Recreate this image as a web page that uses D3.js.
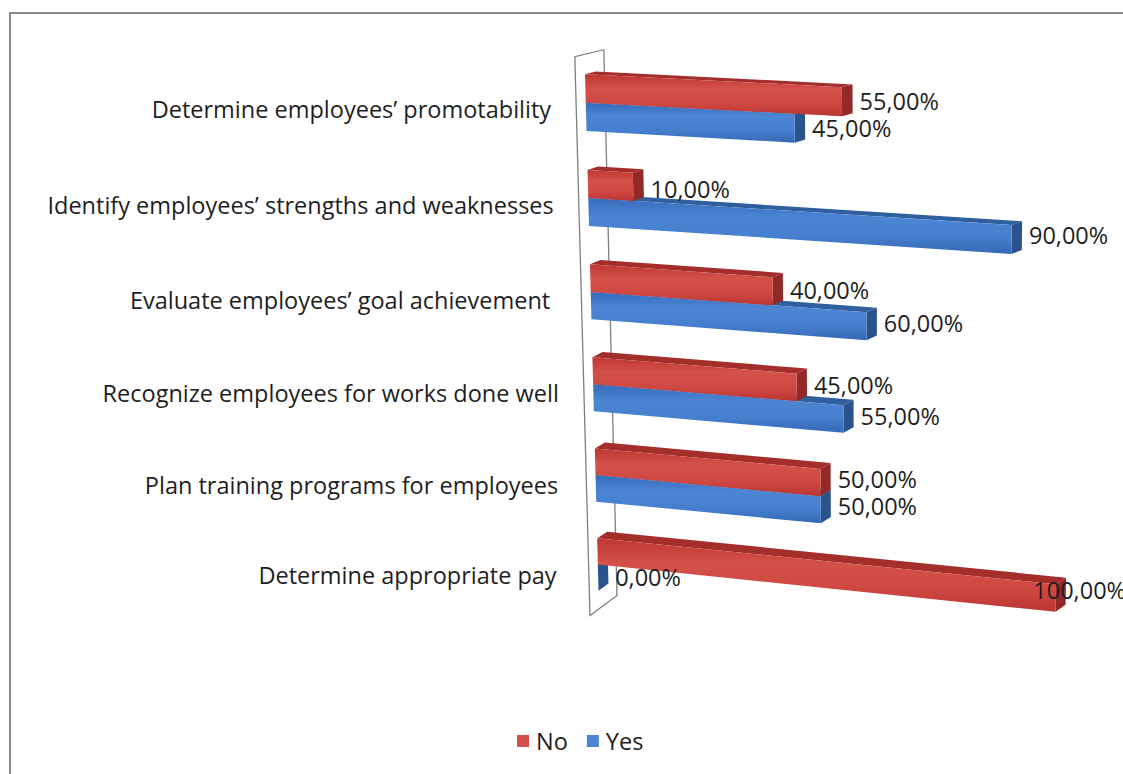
<!DOCTYPE html>
<html>
<head>
<meta charset="utf-8">
<script src="https://cdn.jsdelivr.net/npm/d3@7/dist/d3.min.js"></script>
<style>
  html, body { margin: 0; padding: 0; background: #ffffff; overflow: hidden; }
  svg { display: block; }
  text { font-family: "Open Sans", "DejaVu Sans", sans-serif; fill: #1e1e1e; }
</style>
</head>
<body>
<svg id="chart" width="1123" height="774"></svg>
<script>
// ---- data -------------------------------------------------------------
const categories = [
  "Determine employees’ promotability",
  "Identify employees’ strengths and weaknesses",
  "Evaluate employees’ goal achievement ",
  "Recognize employees for works done well",
  "Plan training programs for employees",
  "Determine appropriate pay"
];
const seriesNames = ["No", "Yes"];
const noValues  = [55, 10, 40, 45, 50, 100];
const yesValues = [45, 90, 60, 55, 50, 0];
const valueDomain = [0, 100];

// ---- layout -----------------------------------------------------------
const W = 1123, H = 774;
const svg = d3.select("#chart");
const FONT = 23.5;

const colors = {
  No:  { front: ["#bf3632", "#d4514a", "#cf4741", "#bb3632"], top: "#a32e2a", side: "#932926" },
  Yes: { front: ["#376bbb", "#4b85d4", "#457fce", "#3668b3"], top: "#2f5f9e", side: "#2a538d" }
};

// value -> u (0..1) along the bar direction
const x = d3.scaleLinear().domain(valueDomain).range([0, 1]);
// category -> v (0..1) down the plot, bars centred in their slot
const y = d3.scaleBand().domain(categories).range([0, 1]).paddingInner(0.41).paddingOuter(0.205);
const ySeries = d3.scaleBand().domain(seriesNames).range([0, y.bandwidth()]);

// Perspective of the bar plane: unit square -> screen quad
const quad = [[584.5, 54.4], [1063.3, 77.4], [1055, 658], [599, 608.8]];
function makeHomography(q) {
  const [x0, y0] = q[0], [x1, y1] = q[1], [x2, y2] = q[2], [x3, y3] = q[3];
  const dx1 = x1 - x2, dx2 = x3 - x2, dx3 = x0 - x1 + x2 - x3;
  const dy1 = y1 - y2, dy2 = y3 - y2, dy3 = y0 - y1 + y2 - y3;
  const den = dx1 * dy2 - dx2 * dy1;
  const g = (dx3 * dy2 - dx2 * dy3) / den;
  const h = (dx1 * dy3 - dx3 * dy1) / den;
  const a = x1 - x0 + g * x1, b = x3 - x0 + h * x3, c = x0;
  const d = y1 - y0 + g * y1, e = y3 - y0 + h * y3, f = y0;
  return (u, v) => {
    const z = g * u + h * v + 1;
    return [(a * u + b * v + c) / z, (d * u + e * v + f) / z];
  };
}
const plane = makeHomography(quad);
// screen offset for one full unit of depth, varying down the plot
const depthTop = [29, -7], depthBottom = [27, -20];
const W_PLANE = 1 / 3, W_FRONT = 1 / 3, W_BACK = 0.70;
function project(u, v, w) {
  const p = plane(u, v);
  const dx = depthTop[0] + (depthBottom[0] - depthTop[0]) * v;
  const dy = depthTop[1] + (depthBottom[1] - depthTop[1]) * v;
  return [p[0] + (w - W_PLANE) * dx, p[1] + (w - W_PLANE) * dy];
}
const poly = pts => "M" + pts.map(p => p[0].toFixed(2) + "," + p[1].toFixed(2)).join("L") + "Z";

// ---- gradients --------------------------------------------------------
const defs = svg.append("defs");
seriesNames.forEach(s => {
  const g = defs.append("linearGradient").attr("id", "grad-" + s)
    .attr("x1", 0).attr("y1", 0).attr("x2", 0).attr("y2", 1);
  const st = colors[s].front;
  [[0, st[0]], [0.35, st[1]], [0.7, st[2]], [1, st[3]]].forEach(([o, c]) =>
    g.append("stop").attr("offset", o).attr("stop-color", c));
});

// ---- chart frame ------------------------------------------------------
svg.append("rect").attr("x", 10).attr("y", 13).attr("width", W + 20).attr("height", H + 20)
  .attr("fill", "none").attr("stroke", "#8a8a8a").attr("stroke-width", 2);

// ---- category floor (thin plate on the left) --------------------------
svg.append("path")
  .attr("d", poly([project(0, 0, 0), project(0, 1, 0), project(0, 1, 1), project(0, 0, 1)]))
  .attr("fill", "none").attr("stroke", "#7f7f7f").attr("stroke-width", 1.3);

// ---- bars -------------------------------------------------------------
const rows = categories.map((c, i) => ({ category: c, No: noValues[i], Yes: yesValues[i] }));
const barsG = svg.append("g");
const labelsG = svg.append("g");
const fmt = d3.formatLocale({ decimal: ",", thousands: ".", grouping: [3], currency: ["", ""] }).format(".2%");

rows.forEach(row => {
  // lower bar first so the upper bar covers its top face
  ["Yes", "No"].forEach(s => {
    const v0 = y(row.category) + ySeries(s);
    const v1 = v0 + ySeries.bandwidth();
    const u = x(row[s]);
    const g = barsG.append("g");
    g.append("path").attr("d", poly([project(0, v0, W_FRONT), project(u, v0, W_FRONT), project(u, v0, W_BACK), project(0, v0, W_BACK)]))
      .attr("fill", colors[s].top);
    g.append("path").attr("d", poly([project(u, v0, W_FRONT), project(u, v0, W_BACK), project(u, v1, W_BACK), project(u, v1, W_FRONT)]))
      .attr("fill", colors[s].side);
    if (u > 0) {
      g.append("path").attr("d", poly([project(0, v0, W_FRONT), project(u, v0, W_FRONT), project(u, v1, W_FRONT), project(0, v1, W_FRONT)]))
        .attr("fill", `url(#grad-${s})`);
    }
    // value label beyond the bar end
    const a = project(u, (v0 + v1) / 2, W_BACK);
    const t = labelsG.append("text")
      .attr("x", a[0] + 7).attr("y", a[1] + 6 - 7 * u)
      .attr("dominant-baseline", "central")
      .attr("font-size", FONT)
      .text(fmt(row[s] / 100));
    const tw = t.node().getComputedTextLength();
    if (a[0] + 7 + tw > W + 3) t.attr("x", W + 3 - tw);
  });
});

// ---- category labels --------------------------------------------------
categories.forEach(c => {
  const v = y(c) + y.bandwidth() / 2;
  const p = project(0, v, 0);
  svg.append("text")
    .attr("x", p[0] - 25 - 24 * Math.max(0, v - 0.62)).attr("y", p[1] + 4)
    .attr("text-anchor", "end")
    .attr("dominant-baseline", "central")
    .attr("font-size", FONT)
    .style("white-space", "pre")
    .text(c);
});

// ---- legend -----------------------------------------------------------
const legend = svg.append("g").attr("transform", "translate(517,741)");
let lx = 0;
seriesNames.forEach(s => {
  legend.append("rect").attr("x", lx).attr("y", -6).attr("width", 12).attr("height", 12)
    .attr("fill", colors[s].front[1]);
  const t = legend.append("text").attr("x", lx + 19).attr("y", 0)
    .attr("dominant-baseline", "central").attr("font-size", FONT).text(s);
  lx += 19 + t.node().getComputedTextLength() + 19;
});
</script>
</body>
</html>
